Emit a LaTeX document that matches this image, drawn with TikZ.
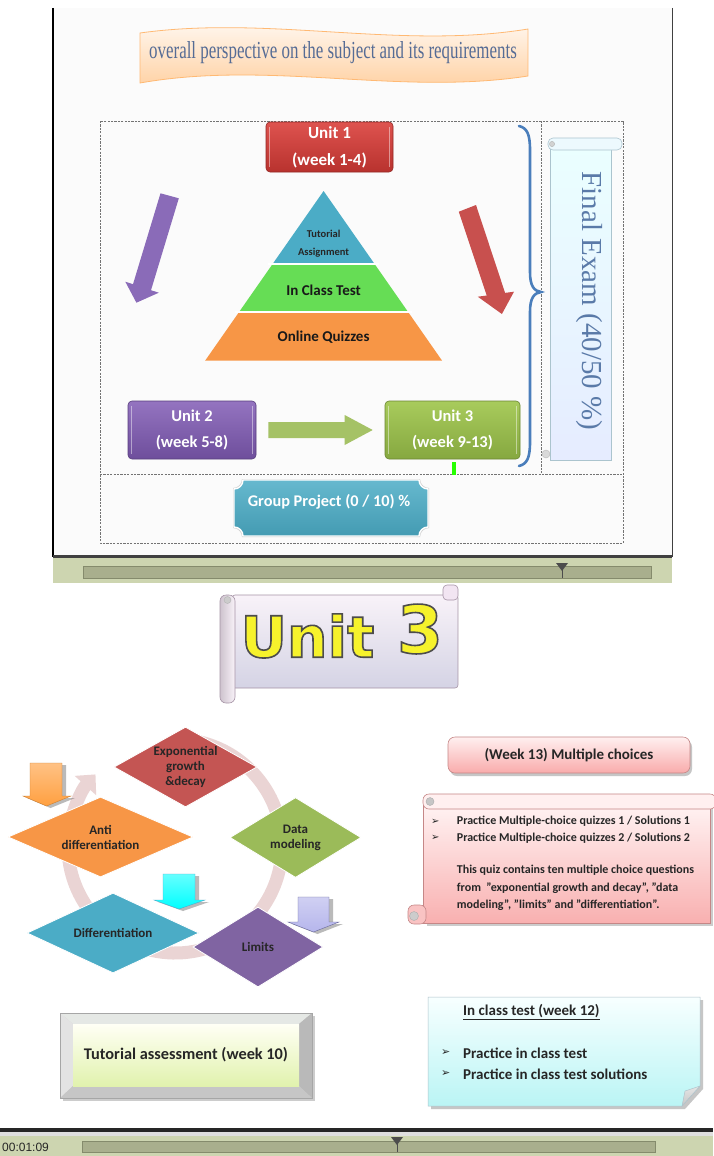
\documentclass[tikz,border=0pt]{standalone}
\usepackage{fontspec}
\setmainfont{Carlito}
\newfontfamily\tms{Liberation Serif}
\newfontfamily\djv{DejaVu Sans}
\newfontfamily\lsans{Liberation Sans}
\usetikzlibrary{shapes.geometric,calc,arrows.meta}
\definecolor{tbgreen}{HTML}{CDD5B0}
\definecolor{tbslide}{HTML}{A9AF8D}
\definecolor{tbedge}{HTML}{858B6C}
\definecolor{bracecol}{HTML}{4A7EBB}
\definecolor{titlecol}{HTML}{566C95}
\definecolor{fecol}{HTML}{5A7AA8}
\definecolor{pyrblue}{HTML}{4BACC6}
\definecolor{pyrgreen}{HTML}{66DD55}
\definecolor{pyrorange}{HTML}{F79646}
\definecolor{arrpurple}{HTML}{8A6BB8}
\definecolor{arrred}{HTML}{C8504E}
\definecolor{arrgreen}{HTML}{A5C266}
\definecolor{dred}{HTML}{C45553}
\definecolor{dgreen}{HTML}{9BBB59}
\definecolor{dpurple}{HTML}{8064A2}
\definecolor{dblue}{HTML}{4BACC6}
\definecolor{dorange}{HTML}{F79646}
\definecolor{arccol}{HTML}{EAD4D4}
\definecolor{u1top}{HTML}{DE534F}
\definecolor{u1bot}{HTML}{B8322E}
\definecolor{u2top}{HTML}{9474C0}
\definecolor{u2bot}{HTML}{6E4E9C}
\definecolor{u3top}{HTML}{A8CB5C}
\definecolor{u3bot}{HTML}{86A840}
\definecolor{logoyel}{HTML}{F6F22C}
\begin{document}
\begin{tikzpicture}[x=1pt,y=-1pt,
  lbl/.style={font=\bfseries, text=white, align=center, inner sep=0pt},
  dtxt/.style={font=\bfseries\fontsize{13}{15}\selectfont, text=black!85, align=center, inner sep=0pt},
  dia/.style={diamond, inner sep=0pt, draw=white, line width=0.8pt},
  dashbox/.style={draw=black!55, line width=0.7pt, dash pattern=on 2.2pt off 1.2pt},
  bshadow/.style={fill=black!60, opacity=0.45},
  ubox/.style={rounded corners=4pt, inner sep=0pt, minimum height=50pt, line width=0.6pt},
  sheen/.style={draw=white, opacity=0.45, line width=1.3pt},
  scrolltxt/.style={font=\bfseries\fontsize{12}{17}\selectfont, text=black!85, inner sep=0pt, anchor=west},
  ictxt/.style={inner sep=0pt, anchor=west, font=\bfseries\fontsize{15}{18}\selectfont, text=black!85}
]
\useasboundingbox (0,0) rectangle (713,1156);
\fill[white] (0,0) rectangle (713,1156);

% ================= upper screenshot =================
\fill[white!97!gray] (53,8) rectangle (672,556);
\draw[line width=1.6pt] (53,8) -- (53,557);
\draw[line width=0.8pt, black!75] (672,8) -- (672,557);
\fill[black!75] (53,555) rectangle (672,558);
\fill[tbgreen] (53,558) rectangle (672,583);
\filldraw[fill=tbslide, draw=tbedge, line width=0.5pt] (83,566) rectangle (651,578);
\fill[black!70] (556,563) -- (568,563) -- (562,571) -- cycle;
\draw[black!70, line width=0.8pt] (562,568) -- (562,578);

% title banner
\shade[top color=white!60!orange!8, bottom color=orange!40!white, draw=orange!55!white, line width=0.8pt]
  (140,33) .. controls (270,15) and (400,50) .. (528,29) -- (528,76)
  .. controls (400,96) and (270,60) .. (140,83) -- cycle;
\node[inner sep=0pt, text=titlecol] (title) at (333,53) {\tms\scalebox{0.69}[1]{\fontsize{24.5}{24}\selectfont overall perspective on the subject and its requirements}};

% dashed frame
\draw[dashbox] (100,121) rectangle (623,543);
\draw[dashbox] (100,474.5) -- (623,474.5);
\draw[dashbox] (541,121) -- (541,474.5);

% Unit 1
\node[ubox, minimum width=127pt, top color=u1top, bottom color=u1bot, draw=u1bot!80!black, lbl,
  font=\bfseries\fontsize{17}{27}\selectfont] (u1) at (329.5,147) {Unit 1\\(week 1-4)};
\draw[sheen] ($(u1.north west)+(4,5)$) -- ($(u1.south west)+(4,-5)$);
\draw[sheen] ($(u1.north east)+(-4,5)$) -- ($(u1.south east)+(-4,-5)$);

% pyramid
\fill[pyrblue] (323.6,191) -- (374.6,264) -- (272.6,264) -- cycle;
\fill[pyrgreen] (272.6,264) -- (374.6,264) -- (407.9,311.7) -- (239.3,311.7) -- cycle;
\fill[pyrorange] (239.3,311.7) -- (407.9,311.7) -- (442.1,360.7) -- (205.1,360.7) -- cycle;
\draw[white, line width=1.8pt] (268,264) -- (379,264);
\draw[white, line width=1.8pt] (235,311.7) -- (412,311.7);
\node[font=\bfseries\fontsize{10.5}{18.5}\selectfont, align=center, inner sep=0pt, text=black!85] (tut) at (323.6,243.5) {Tutorial\\Assignment};
\node[font=\bfseries\fontsize{15}{18}\selectfont, inner sep=0pt, text=black!90] (ict) at (323.6,290) {In Class Test};
\node[font=\bfseries\fontsize{15}{18}\selectfont, inner sep=0pt, text=black!90] (oq) at (323.6,337.5) {Online Quizzes};

% diagonal arrows
\fill[arrpurple] (178.8,198.3) -- (151.0,290.2) -- (158.8,292.7) -- (136.4,302.7) -- (125.3,281.7) -- (133.0,284.2) -- (160.5,193.3) -- cycle;
\fill[arrred] (476,205) -- (505.1,292.9) -- (514,291.7) -- (501.9,314) -- (477.8,296.7) -- (486.7,295.5) -- (458.8,211.7) -- cycle;

% brace
\draw[bracecol, line width=2.6pt, line cap=round]
  (519,126) .. controls (527,128) and (530,134) .. (530,150) -- (530,272)
  .. controls (530,286) and (534,291) .. (541,292)
  .. controls (534,293) and (530,298) .. (530,312) -- (530,442)
  .. controls (530,458) and (527,464) .. (519,466);

% Final exam scroll
\shade[top color=white!92!cyan, bottom color=cyan!25!blue!10!white, draw=cyan!30!gray!60, line width=0.6pt] (550,146) rectangle (611,460);
\filldraw[fill=white!93!cyan, draw=cyan!30!gray!60, line width=0.6pt, rounded corners=5pt] (548,138) rectangle (622,150);
\filldraw[fill=gray!35, draw=gray!60, line width=0.4pt] (552,144) circle (2.6);
\filldraw[fill=gray!30, draw=gray!55, line width=0.4pt] (546,454) circle (4);
\node[rotate=-90, inner sep=0pt, text=fecol] (fe) at (589,301) {\tms\fontsize{29}{29}\selectfont Final Exam (40/50 \%)};

% Unit 2, Unit 3
\node[ubox, minimum width=128pt, minimum height=58pt, top color=u2top, bottom color=u2bot, draw=u2bot!80!black, lbl,
  font=\bfseries\fontsize{16.5}{25.5}\selectfont] (u2) at (192,430) {Unit 2\\(week 5-8)};
\draw[sheen] ($(u2.north west)+(4,5)$) -- ($(u2.south west)+(4,-5)$);
\draw[sheen] ($(u2.north east)+(-4,5)$) -- ($(u2.south east)+(-4,-5)$);
\node[ubox, minimum width=135pt, minimum height=58pt, top color=u3top, bottom color=u3bot, draw=u3bot!80!black, lbl,
  font=\bfseries\fontsize{16.5}{25.5}\selectfont] (u3) at (452.5,430) {Unit 3\\(week 9-13)};
\draw[sheen] ($(u3.north west)+(4,5)$) -- ($(u3.south west)+(4,-5)$);
\draw[sheen] ($(u3.north east)+(-4,5)$) -- ($(u3.south east)+(-4,-5)$);
\coordinate (ga) at ($(u2.east)+(12,0)$);
\coordinate (gb) at ($(u3.west)+(-12,0)$);
\fill[arrgreen] ($(ga)+(0,-8)$) -- ($(gb)+(-28,-8)$) -- ($(gb)+(-28,-15)$) -- (gb) -- ($(gb)+(-28,15)$) -- ($(gb)+(-28,8)$) -- ($(ga)+(0,8)$) -- cycle;
\fill[green!80!lime] (452,462) rectangle (456,475);

% group project plaque
\fill[gray!40] (242,479) -- (420,479) .. controls (420,484) and (424,488) .. (429,488) -- (429,528) .. controls (424,528) and (420,532) .. (420,537) -- (242,537) .. controls (242,532) and (238,528) .. (233,528) -- (233,488) .. controls (238,488) and (242,484) .. (242,479) -- cycle;
\shade[top color=pyrblue!85!white, bottom color=pyrblue!90!black, draw=white, line width=1.4pt]
  (243,480) -- (419,480) .. controls (419,485) and (423,489) .. (428,489) -- (428,527) .. controls (423,527) and (419,531) .. (419,536) -- (243,536) .. controls (243,531) and (239,527) .. (234,527) -- (234,489) .. controls (239,489) and (243,485) .. (243,480) -- cycle;
\node[lbl, font=\bfseries\fontsize{16.3}{18}\selectfont] (gp) at (329,501.5) {Group Project (0 / 10) \%};

% ================= lower screenshot =================
% Unit 3 banner scroll
\shade[top color=white!95!violet, bottom color=violet!12!blue!8!white!90!black, draw=violet!20!gray!70, line width=0.6pt, rounded corners=3pt] (232,595) rectangle (458,688);
\filldraw[fill=white!90!violet, draw=violet!20!gray!70, line width=0.6pt, rounded corners=4pt] (443,585) rectangle (458,600);
\shade[left color=violet!10!white!85!black, right color=white!95!violet, draw=violet!20!gray!70, line width=0.6pt, rounded corners=6pt] (220,595) rectangle (235,703);
\filldraw[fill=gray!40, draw=gray!60, line width=0.4pt] (227.5,600) circle (3.5);
\node[inner sep=0pt, text=logoyel] (ulogo) at (307.5,636) {\djv\bfseries\fontsize{57}{57}\selectfont\special{pdf:literal direct 2 Tr 1.6 w 0.3 0.3 0.3 RG}Unit\special{pdf:literal direct 0 Tr}};
\node[inner sep=0pt, text=logoyel] (nlogo) at (420,629) {\djv\bfseries\fontsize{66}{66}\selectfont\special{pdf:literal direct 2 Tr 1.6 w 0.3 0.3 0.3 RG}3\special{pdf:literal direct 0 Tr}};

% cycle arc
\draw[arccol, line width=13pt, -{Triangle[width=28pt,length=15pt]}] (175,846) ++(-80:107) arc[start angle=-80, end angle=222, radius=107];

% diamonds
\node[dia, minimum width=143pt, minimum height=80pt, fill=dred] (dexp) at (185.5,767) {};
\node[dia, minimum width=131pt, minimum height=80pt, fill=dgreen] (ddata) at (295.5,837.5) {};
\node[dia, minimum width=130pt, minimum height=80pt, fill=dpurple] (dlim) at (258,947) {};
\node[dia, minimum width=172pt, minimum height=80pt, fill=dblue] (ddiff) at (113,933) {};
\node[dia, minimum width=185pt, minimum height=80pt, fill=dorange] (danti) at (100.5,837) {};
\node[dtxt] (texp) at (dexp.center) {Exponential\\growth\\\&decay};
\node[dtxt] (tdata) at (ddata.center) {Data\\modeling};
\node[dtxt] (tlim) at (dlim.center) {Limits};
\node[dtxt] (tdiff) at (ddiff.center) {Differentiation};
\node[dtxt] (tanti) at (danti.center) {Anti\\differentiation};

% block down arrows
\fill[bshadow] (34,765) -- (66,765) -- (66,798) -- (75,798) -- (50.5,808) -- (27,798) -- (34,798) -- cycle;
\shade[top color=orange!35!white!80!orange, bottom color=orange!75!white, draw=orange!60!gray, line width=0.4pt] (30,763) -- (62,763) -- (62,796) -- (71,796) -- (46.5,806) -- (23,796) -- (30,796) -- cycle;
\fill[bshadow] (167,876) -- (199,876) -- (199,902) -- (209,902) -- (183,911) -- (158,902) -- (167,902) -- cycle;
\shade[top color=cyan!60!white, bottom color=cyan, draw=cyan!60!gray, line width=0.4pt] (163,874) -- (195,874) -- (195,900) -- (205,900) -- (179,909) -- (154,900) -- (163,900) -- cycle;
\fill[bshadow] (302,899) -- (333,899) -- (333,924) -- (343,924) -- (317.5,934) -- (292,924) -- (302,924) -- cycle;
\shade[top color=blue!15!white!90!gray, bottom color=blue!25!white!85!gray, draw=blue!20!gray, line width=0.4pt] (298,897) -- (329,897) -- (329,922) -- (339,922) -- (313.5,932) -- (288,922) -- (298,922) -- cycle;

% Week 13 box
\fill[gray!45] (450,740) [rounded corners=7pt] rectangle (692,776);
\node[rounded corners=7pt, minimum width=242pt, minimum height=36pt, inner sep=0pt, top color=red!6!white, bottom color=red!32!white!95!gray, draw=red!35!gray!70, line width=0.6pt,
  font=\bfseries\fontsize{15}{17}\selectfont, text=black!85] (w13) at (569,755) {(Week 13) Multiple choices};

% pink scroll
\fill[gray!40] (427,808) rectangle (713,926);
\shade[top color=red!5!white, bottom color=red!30!white!95!gray, draw=red!35!gray!70, line width=0.6pt] (423,805) rectangle (710,923);
\filldraw[fill=red!6!white, draw=red!35!gray!70, line width=0.6pt, rounded corners=6pt] (423,794) rectangle (716,809);
\filldraw[fill=gray!45, draw=gray!65, line width=0.4pt] (430,801.5) circle (4);
\filldraw[fill=red!22!white!95!gray, draw=red!35!gray!70, line width=0.6pt, rounded corners=6pt] (408,905) rectangle (426,924);
\filldraw[fill=gray!40, draw=gray!65, line width=0.4pt] (414,916) circle (4.5);
\node[scrolltxt] (b1) at (431,821.7) {\djv\fontsize{10}{10}\selectfont ➢};
\node[scrolltxt] (b2) at (431,838.3) {\djv\fontsize{10}{10}\selectfont ➢};
\node[scrolltxt] (p1) at (456.7,821.7) {Practice Multiple-choice quizzes 1 / Solutions 1};
\node[scrolltxt] (p2) at (456.7,838.3) {Practice Multiple-choice quizzes 2 / Solutions 2};
\node[scrolltxt] (q1) at (456.7,870) {This quiz contains ten multiple choice questions};
\node[scrolltxt] (q2) at (456.7,888.3) {from\ \ "exponential growth and decay", "data};
\node[scrolltxt] (q3) at (456.7,905) {modeling", "limits" and "differentiation".};

% Tutorial assessment bevel box
\fill[gray!40] (63,1016) rectangle (315,1101);
\fill[white!90!green!40!gray!30] (60,1013) -- (312,1013) -- (299,1024) -- (73,1024) -- cycle;
\fill[gray!22!white] (60,1013) -- (73,1024) -- (73,1086) -- (60,1098) -- cycle;
\fill[gray!55!white] (312,1013) -- (312,1098) -- (299,1086) -- (299,1024) -- cycle;
\fill[gray!45!white] (60,1098) -- (312,1098) -- (299,1086) -- (73,1086) -- cycle;
\draw[gray!70, line width=0.5pt] (60,1013) rectangle (312,1098);
\node[top color=white!96!yellow, bottom color=green!25!yellow!30!white!90!gray, minimum width=226pt, minimum height=62pt, inner sep=0pt,
  font=\bfseries\fontsize{16.3}{19}\selectfont, text=black!85] (tutbox) at (186,1055) {Tutorial assessment (week 10)};

% In class test box
\fill[gray!45] (431,1000) -- (703,1000) -- (703,1089) -- (685,1109) -- (431,1109) -- cycle;
\shade[top color=cyan!3!white, bottom color=cyan!25!white!92!gray, draw=cyan!25!gray!60, line width=0.5pt] (428,997) -- (700,997) -- (700,1086) -- (682,1106) -- (428,1106) -- cycle;
\shade[top color=gray!20, bottom color=gray!45, draw=cyan!25!gray!60, line width=0.5pt] (700,1086) -- (685,1091) -- (682,1106) -- cycle;
\node[ictxt] (ict12) at (463,1012) {\underline{In class test (week 12)}};
\node[inner sep=0pt, anchor=west, text=black!85] (c1) at (441,1053) {\djv\fontsize{11}{11}\selectfont ➢};
\node[inner sep=0pt, anchor=west, text=black!85] (c2) at (441,1074) {\djv\fontsize{11}{11}\selectfont ➢};
\node[ictxt] (pc1) at (463,1053) {Practice in class test};
\node[ictxt] (pc2) at (463,1074) {Practice in class test solutions};

% bottom toolbar
\fill[black!85] (0,1128) rectangle (713,1132);
\fill[gray!25] (0,1132) rectangle (713,1136);
\fill[tbgreen] (0,1136) rectangle (713,1156);
\filldraw[fill=tbslide, draw=tbedge, line width=0.5pt] (82,1141) rectangle (655,1152);
\fill[black!70] (391,1137) -- (403,1137) -- (397,1145) -- cycle;
\draw[black!70, line width=0.8pt] (397,1142) -- (397,1152);
\node[inner sep=0pt, anchor=west, text=black!85] (time) at (2,1147) {\lsans\fontsize{12}{12}\selectfont 00:01:09};
\end{tikzpicture}
\end{document}
